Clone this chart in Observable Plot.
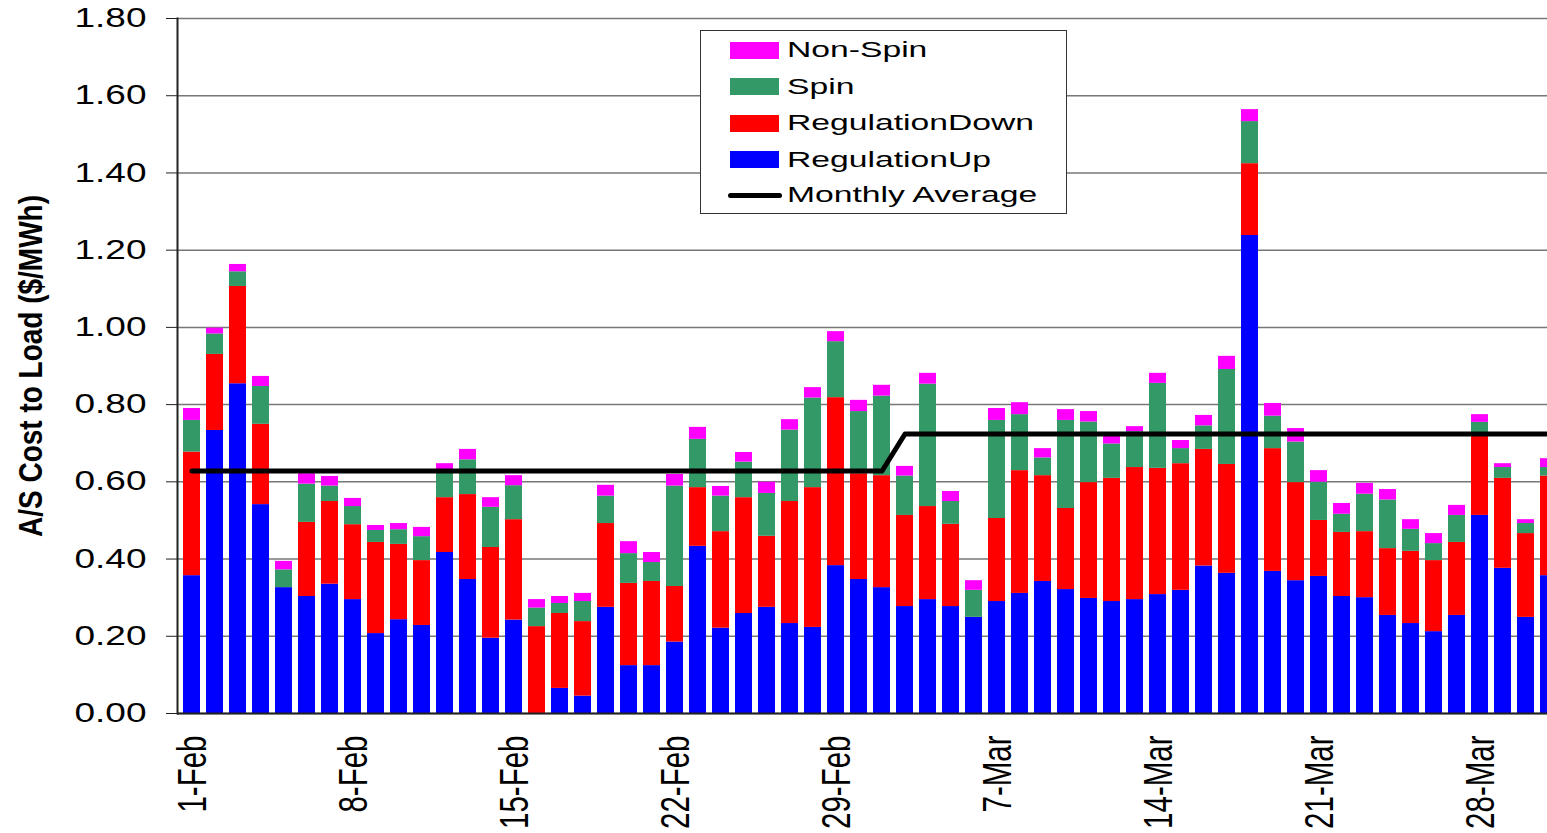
<!DOCTYPE html>
<html>
<head>
<meta charset="utf-8">
<script src="https://cdn.jsdelivr.net/npm/d3@7"></script>
<script src="https://cdn.jsdelivr.net/npm/@observablehq/plot@0.6"></script>
<style>
  html, body { margin: 0; padding: 0; overflow: hidden; background: #fff; }
  #wrap { position: relative; width: 1547px; height: 833px; overflow: hidden; }
  #wrap svg { position: absolute; left: 0; top: 0; overflow: hidden; max-width: none; }
  #legend { position: absolute; left: 700px; top: 30px; width: 367px; height: 184px; box-sizing: border-box;
            border: 1.5px solid #333; background: #fff; font-family: "Liberation Sans", Arial, sans-serif; }
  .row { position: absolute; left: 0; height: 20px; display: flex; align-items: center; }
  .sw { position: absolute; left: 29px; width: 49px; height: 17px; }
  .ln { position: absolute; left: 27px; width: 54px; height: 5px; border-radius: 3px; background: #000; }
  .lab { position: absolute; left: 86px; font-size: 22px; line-height: 20px; color: #000; white-space: nowrap;
         transform: scaleX(1.53); transform-origin: left center; }
</style>
</head>
<body>
<div id="wrap"></div>
<script>
// ---- data ----
const days = ["1-Feb","2-Feb","3-Feb","4-Feb","5-Feb","6-Feb","7-Feb","8-Feb","9-Feb","10-Feb",
  "11-Feb","12-Feb","13-Feb","14-Feb","15-Feb","16-Feb","17-Feb","18-Feb","19-Feb","20-Feb",
  "21-Feb","22-Feb","23-Feb","24-Feb","25-Feb","26-Feb","27-Feb","28-Feb","29-Feb",
  "1-Mar","2-Mar","3-Mar","4-Mar","5-Mar","6-Mar","7-Mar","8-Mar","9-Mar","10-Mar",
  "11-Mar","12-Mar","13-Mar","14-Mar","15-Mar","16-Mar","17-Mar","18-Mar","19-Mar","20-Mar",
  "21-Mar","22-Mar","23-Mar","24-Mar","25-Mar","26-Mar","27-Mar","28-Mar","29-Mar","30-Mar","31-Mar"];

const regUp = [0.357,0.733,0.854,0.541,0.326,0.303,0.335,0.295,0.207,0.243,
  0.228,0.417,0.347,0.195,0.242,0.000,0.065,0.045,0.275,0.124,
  0.124,0.185,0.433,0.221,0.259,0.275,0.233,0.223,0.383,
  0.347,0.326,0.277,0.295,0.277,0.249,0.290,0.311,0.342,0.321,
  0.298,0.290,0.295,0.308,0.319,0.382,0.363,1.238,0.368,0.344,
  0.355,0.303,0.300,0.254,0.233,0.212,0.254,0.513,0.376,0.249,0.357];

const regDown = [0.320,0.197,0.252,0.208,0.000,0.192,0.214,0.194,0.236,0.195,
  0.168,0.142,0.220,0.235,0.260,0.225,0.194,0.193,0.217,0.213,
  0.218,0.144,0.152,0.250,0.300,0.184,0.316,0.362,0.435,
  0.274,0.290,0.236,0.241,0.213,0.000,0.215,0.318,0.274,0.210,
  0.300,0.319,0.342,0.327,0.328,0.302,0.282,0.186,0.318,0.254,
  0.145,0.166,0.171,0.173,0.187,0.184,0.189,0.205,0.233,0.217,0.258];

const spin = [0.082,0.053,0.038,0.098,0.046,0.099,0.040,0.047,0.031,0.038,
  0.062,0.068,0.090,0.104,0.088,0.048,0.026,0.052,0.071,0.077,
  0.049,0.260,0.125,0.092,0.092,0.111,0.185,0.232,0.145,
  0.161,0.206,0.102,0.317,0.059,0.070,0.254,0.145,0.046,0.228,
  0.157,0.089,0.093,0.220,0.039,0.061,0.246,0.109,0.084,0.105,
  0.099,0.047,0.097,0.126,0.057,0.044,0.070,0.036,0.028,0.026,0.022];

const nonSpin = [0.031,0.015,0.019,0.026,0.022,0.027,0.025,0.021,0.013,0.016,
  0.024,0.020,0.027,0.025,0.026,0.022,0.018,0.021,0.028,0.031,
  0.026,0.030,0.031,0.025,0.025,0.029,0.027,0.027,0.026,
  0.029,0.028,0.025,0.028,0.026,0.025,0.031,0.031,0.024,0.028,
  0.027,0.022,0.013,0.026,0.021,0.027,0.034,0.031,0.033,0.035,
  0.030,0.028,0.028,0.027,0.025,0.026,0.026,0.020,0.010,0.010,0.023];

const avgDays = ["1-Feb","2-Mar","3-Mar","31-Mar"];
const avgValues = [0.628,0.628,0.724,0.724];

const seriesNames = ["RegulationUp","RegulationDown","Spin","Non-Spin"];
const seriesColors = ["#0000FF","#FF0000","#339966","#FF00FF"];
const yTicks = [0,0.2,0.4,0.6,0.8,1.0,1.2,1.4,1.6,1.8];
const xTickLabels = ["1-Feb","8-Feb","15-Feb","22-Feb","29-Feb","7-Mar","14-Mar","21-Mar","28-Mar"];
const yTitle = "A/S Cost to Load ($/MWh)";

// ---- build ----
const seriesValues = [regUp, regDown, spin, nonSpin];
const rows = seriesNames.flatMap((name, s) => seriesValues[s].map((v, i) => ({day: days[i], value: v, series: name})));
const avgRows = avgDays.map((d, i) => ({day: d, value: avgValues[i]}));

const W = 1547, H = 833, ML = 177, MT = 18, MB = 120;
const step = 23.09;

const chart = Plot.plot({
  width: W, height: H,
  marginLeft: ML, marginRight: 0, marginTop: MT, marginBottom: MB,
  style: {fontFamily: "'Liberation Sans', Arial, sans-serif", color: "#000", background: "#fff", overflow: "hidden"},
  x: {type: "band", domain: days, range: [ML, ML + step * days.length], paddingInner: 0.264, paddingOuter: 0.132, axis: null},
  y: {domain: [0, 1.8], axis: null, label: null},
  color: {domain: seriesNames, range: seriesColors},
  marks: [
    Plot.ruleY(yTicks, {stroke: "#777", strokeWidth: 1.5}),
    Plot.barY(rows, {x: "day", y: "value", fill: "series"}),
    Plot.line(avgRows, {x: "day", y: "value", stroke: "#000", strokeWidth: 5, strokeLinecap: "round", strokeLinejoin: "round"}),
    Plot.ruleY([0], {stroke: "#222", strokeWidth: 2}),
    Plot.frame({anchor: "left", stroke: "#222", strokeWidth: 2}),
    Plot.axisY(yTicks, {tickFormat: d => d.toFixed(2), fontSize: 27, tickSize: 11, tickPadding: 20, stroke: "#222", label: null}),
    Plot.text(xTickLabels, {x: d => d, frameAnchor: "bottom", rotate: -90, textAnchor: "end", lineAnchor: "middle", dy: 22, fontSize: 29.5, fill: "#000"}),
    Plot.text([yTitle], {frameAnchor: "left", rotate: -90, textAnchor: "middle", lineAnchor: "middle", dx: -146, fontSize: 28, fontWeight: "bold", fill: "#000"})
  ]
});

const wrap = document.getElementById("wrap");
wrap.appendChild(chart);

// horizontal stretch of the text (the reference lettering is wide)
function stretch(svg, texts, sx, fx, fy) {
  const sr = svg.getBoundingClientRect();
  texts.forEach(t => {
    const r = t.getBoundingClientRect();
    let p = svg.createSVGPoint();
    p.x = r.left - sr.left + fx * r.width;
    p.y = r.top - sr.top + fy * r.height;
    const parent = t.parentNode;
    p = p.matrixTransform(parent.getCTM().inverse());
    const g = document.createElementNS("http://www.w3.org/2000/svg", "g");
    g.setAttribute("transform", `translate(${p.x},${p.y}) scale(${sx},1) translate(${-p.x},${-p.y})`);
    parent.insertBefore(g, t);
    g.appendChild(t);
  });
}
const allTexts = Array.from(chart.querySelectorAll("text"));
const yLabelSet = new Set(yTicks.map(d => d.toFixed(2)));
stretch(chart, allTexts.filter(t => yLabelSet.has(t.textContent)), 1.37, 1, 0.5);
stretch(chart, allTexts.filter(t => xTickLabels.includes(t.textContent)), 1.4, 0.5, 0.5);
stretch(chart, allTexts.filter(t => t.textContent === yTitle), 1.2, 0.5, 0.5);

// legend
const legendItems = [
  {name: "Non-Spin", color: "#FF00FF", kind: "swatch"},
  {name: "Spin", color: "#339966", kind: "swatch"},
  {name: "RegulationDown", color: "#FF0000", kind: "swatch"},
  {name: "RegulationUp", color: "#0000FF", kind: "swatch"},
  {name: "Monthly Average", color: "#000", kind: "line"}
];
const legend = document.createElement("div");
legend.id = "legend";
const rowCenters = [19, 55.5, 92, 128.5, 164];
legendItems.forEach((it, i) => {
  const row = document.createElement("div");
  row.className = "row";
  row.style.top = (rowCenters[i] - 10) + "px";
  row.style.width = "100%";
  const mk = document.createElement("div");
  mk.className = it.kind === "line" ? "ln" : "sw";
  mk.style.background = it.color;
  mk.style.top = it.kind === "line" ? "7.5px" : "1.5px";
  const lab = document.createElement("div");
  lab.className = "lab";
  lab.textContent = it.name;
  row.appendChild(mk);
  row.appendChild(lab);
  legend.appendChild(row);
});
wrap.appendChild(legend);
</script>
</body>
</html>
